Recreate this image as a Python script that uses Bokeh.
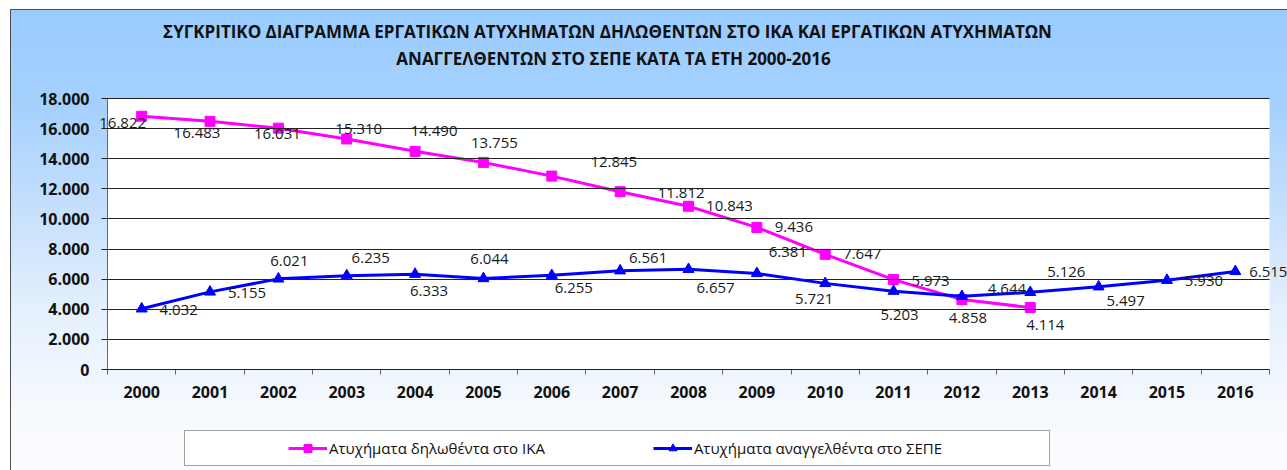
from bokeh.plotting import figure
from bokeh.models import (ColumnDataSource, LabelSet, Label, Legend, LegendItem, FixedTicker,
                          BoxAnnotation)
from bokeh.core.properties import value
from bokeh.embed import file_html
from bokeh.resources import INLINE

# ---------------- data ----------------
years_ika = [2000, 2001, 2002, 2003, 2004, 2005, 2006, 2007, 2008, 2009, 2010, 2011, 2012, 2013]
years_sepe = [2000, 2001, 2002, 2003, 2004, 2005, 2006, 2007, 2008, 2009, 2010, 2011, 2012, 2013,
              2014, 2015, 2016]
ika = [16822, 16483, 16031, 15310, 14490, 13755, 12845, 11812, 10843, 9436, 7647, 5973, 4644, 4114]
sepe = [4032, 5155, 6021, 6235, 6333, 6044, 6255, 6561, 6657, 6381, 5721, 5203, 4858, 5126,
        5497, 5930, 6515]
y_ticks = [0, 2000, 4000, 6000, 8000, 10000, 12000, 14000, 16000, 18000]
series_names = ["Ατυχήματα δηλωθέντα στο ΙΚΑ", "Ατυχήματα αναγγελθέντα στο ΣΕΠΕ"]
title_lines = ["ΣΥΓΚΡΙΤΙΚΟ ΔΙΑΓΡΑΜΜΑ ΕΡΓΑΤΙΚΩΝ ΑΤΥΧΗΜΑΤΩΝ ΔΗΛΩΘΕΝΤΩΝ ΣΤΟ ΙΚΑ ΚΑΙ ΕΡΓΑΤΙΚΩΝ ΑΤΥΧΗΜΑΤΩΝ",
               "ΑΝΑΓΓΕΛΘΕΝΤΩΝ ΣΤΟ ΣΕΠΕ ΚΑΤΑ ΤΑ ΕΤΗ 2000-2016"]

# ---------------- label placement (screen px, y down) ----------------
ika_dx = [-19, -13, -1, 12, 19, 11, 62, 61, 41, 37, 37, 37, 45, 15]
ika_dy = [7, 12, 6, -10, -20, -19, -14, 1, 0, 0, 0, 1, -11, 17]
sepe_dx = [37, 37, 11, 24, 14, 6, 22, 28, 27, 31, -11, 6, 6, 36, 27, 37, 33]
sepe_dy = [1, 1, -18, -18, 17, -20, 13, -13, 19, -21, 16, 24, 22, -20, 14, 1, 1]


def fmt(v):
    return f"{v:,}".replace(",", ".")


PINK = "#FF00FF"
BLUE = "#0000FF"
W, H = 1287, 470
# plot-area edges in canvas pixels
PX_L, PX_R, PX_T, PX_B = 107, 1269, 98, 369

x_lo, x_hi = years_sepe[0] - 0.5, years_sepe[-1] + 0.5
y_lo, y_hi = y_ticks[0], y_ticks[-1]
ux = (x_hi - x_lo) / (PX_R - PX_L)
uy = (y_hi - y_lo) / (PX_B - PX_T)
x_range = (x_lo - PX_L * ux, x_hi + (W - PX_R) * ux)
y_range = (y_lo - (H - PX_B) * uy, y_hi + PX_T * uy)

p = figure(width=W, height=H, x_range=x_range, y_range=y_range,
           output_backend="svg", toolbar_location=None,
           min_border=0, min_border_left=0, min_border_right=0,
           min_border_top=0, min_border_bottom=0)
p.background_fill_alpha = 0
p.border_fill_alpha = 0
p.outline_line_color = None
p.xgrid.visible = False
p.ygrid.visible = False
p.styles = {
    "background-image": ("linear-gradient(#fff,#fff), linear-gradient(#fff,#fff), "
                         "linear-gradient(#505050,#505050), linear-gradient(#505050,#505050), "
                         "linear-gradient(to bottom, #99CCFF 2%, #A6D1FE 23%, #C6E0FC 45%, "
                         "#E4F0FD 66%, #F6F9FE 87%, #FBFCFF 100%)"),
    "background-size": "10px 100%, 100% 9px, 1px 100%, 100% 1px, 100% 100%",
    "background-position": "0 0, 0 0, 10px 9px, 10px 9px, 0 0",
    "background-repeat": "no-repeat",
}

# white plot area
p.add_layout(BoxAnnotation(left=x_lo, right=x_hi, bottom=y_lo, top=y_hi, fill_color="white",
                           fill_alpha=1, line_color=None, level="underlay"))

# y axis (inner ticks act as horizontal gridlines across the plot area)
ya = p.yaxis[0]
ya.fixed_location = x_lo
ya.bounds = (y_lo, y_hi)
ya.ticker = FixedTicker(ticks=y_ticks)
ya.major_label_overrides = {t: fmt(t) for t in y_ticks}
ya.major_tick_out = 6
ya.major_tick_in = PX_R - PX_L
ya.major_tick_line_color = "#222222"
ya.minor_tick_line_color = None
ya.axis_line_color = "#666666"
ya.major_label_standoff = 12
ya.major_label_text_font = "Open Sans"
ya.major_label_text_font_style = "bold"
ya.major_label_text_font_size = "16px"
ya.major_label_text_color = "#111111"

# x axis
xa = p.xaxis[0]
xa.fixed_location = y_lo
xa.bounds = (x_lo, x_hi)
boundaries = [y - 0.5 for y in years_sepe] + [x_hi]
xa.ticker = FixedTicker(ticks=years_sepe, minor_ticks=boundaries)
xa.major_label_overrides = {y: str(y) for y in years_sepe}
xa.major_tick_line_color = None
xa.major_tick_out = 0
xa.major_tick_in = 0
xa.minor_tick_out = 5
xa.minor_tick_in = 0
xa.minor_tick_line_color = "#666666"
xa.axis_line_color = "#666666"
xa.major_label_standoff = 11
xa.major_label_text_font = "Open Sans"
xa.major_label_text_font_style = "bold"
xa.major_label_text_font_size = "16px"
xa.major_label_text_color = "#111111"

# series
r1 = p.line(years_ika, ika, line_color=PINK, line_width=3)
r1m = p.scatter(years_ika, ika, marker="square", size=10, fill_color=PINK, line_color=PINK)
r2 = p.line(years_sepe, sepe, line_color=BLUE, line_width=3)
r2m = p.scatter(years_sepe, sepe, marker="triangle", size=11, fill_color=BLUE, line_color=BLUE)

# data labels
src1 = ColumnDataSource(dict(x=years_ika, y=ika, text=[fmt(v) for v in ika],
                             dx=ika_dx, dy=[-d for d in ika_dy]))
src2 = ColumnDataSource(dict(x=years_sepe, y=sepe, text=[fmt(v) for v in sepe],
                             dx=sepe_dx, dy=[-d for d in sepe_dy]))
for s in (src1, src2):
    p.add_layout(LabelSet(x="x", y="y", text="text", x_offset="dx", y_offset="dy", source=s,
                          text_align="center", text_baseline="middle",
                          text_font=value("Open Sans"), text_font_size="15px",
                          text_color="#1a1a1a"))

# title (two lines)
for txt, cx, cy in ((title_lines[0], 607, 31), (title_lines[1], 613, 58)):
    p.add_layout(Label(x=cx, y=H - cy, x_units="screen", y_units="screen",
                       text=txt, text_align="center", text_baseline="middle",
                       text_font="Open Sans", text_font_style="bold", text_font_size="17px",
                       text_color="#111111"))

# legend box
dummy = p.line(x=[], y=[], line_alpha=0)
box = Legend(items=[LegendItem(label=" ", renderers=[dummy])], location=(184, H - 466),
             orientation="horizontal", padding=0, margin=0, spacing=0,
             glyph_width=864, glyph_height=34, label_width=0, label_height=0, label_standoff=0,
             label_text_font_size="1px", border_line_color="#444444", border_line_width=1,
             background_fill_color="white", background_fill_alpha=1)
p.add_layout(box)

leg = Legend(items=[LegendItem(label=series_names[0], renderers=[r1, r1m]),
                    LegendItem(label=series_names[1], renderers=[r2, r2m])],
             location=(288, H - 458), orientation="horizontal",
             padding=0, margin=0, spacing=108, glyph_width=39, glyph_height=20,
             label_standoff=2, label_height=20, label_text_font="Open Sans",
             label_text_font_size="15px", label_text_color="#111111",
             border_line_color=None, background_fill_alpha=0)
p.add_layout(leg)

open("out.html", "w").write(file_html(p, INLINE))
